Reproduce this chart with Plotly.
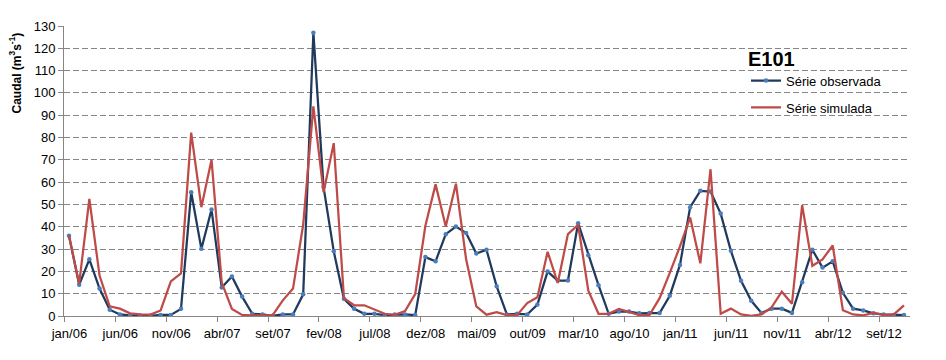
import plotly.graph_objects as go

months_pt = ["jan", "fev", "mar", "abr", "mai", "jun", "jul", "ago", "set", "out", "nov", "dez"]
# monthly categories jan/06 .. nov/12
categories = [f"{months_pt[m]}/{y:02d}" for y in range(6, 13) for m in range(12)][:83]

observada = [36, 14, 25.4, 12.3, 2.8, 0.7, 0.3, 0.2, 0.1, 0.5, 0.5, 3.2,
             55.5, 30.1, 47.7, 12.8, 17.7, 8.7, 1.0, 0.7, 0.1, 0.7, 0.7, 9.7,
             127, 57.8, 29, 7.7, 3.2, 1.0, 1.0, 0.4, 0.7, 0.7, 0.4, 26.4,
             24.5, 36.7, 40.1, 37.2, 28, 29.7, 13.3, 0.7, 1.0, 0.7, 5.1, 19.9,
             15.9, 15.9, 41.6, 27.2, 13.8, 1.0, 2.0, 2.0, 1.2, 1.3, 1.3, 9.1,
             22.9, 48.8, 56.1, 55.8, 45.9, 29.2, 15.8, 6.8, 1.4, 3.3, 3.3, 1.4,
             15.1, 29.7, 21.7, 24.5, 10.4, 3.3, 2.5, 1.2, 0.7, 0.4, 0.4]

simulada = [36, 14.5, 52.5, 18.1, 4.3, 3.3, 1.2, 0.7, 0.6, 2.5, 15.5, 19.1,
            82.2, 48.8, 70, 15, 3.2, 0.5, 0.3, 0.3, 0.4, 7, 12.3, 41,
            94, 55.5, 77.5, 8, 4.8, 4.8, 2.9, 1.0, 0.5, 2.2, 9.8, 40.5,
            59, 40.1, 59.3, 25.4, 4.3, 0.6, 1.7, 0.4, 0.4, 5.8, 8.4, 28.8,
            14.8, 36.7, 40.9, 11.3, 1.0, 1.0, 3.2, 1.7, 0.4, 0.4, 8, 19.3,
            31.2, 44.2, 23.6, 65.8, 1.0, 3.3, 0.7, 0.1, 0.7, 3.9, 10.9, 5.5,
            49.7, 22.5, 25.4, 31.6, 2.6, 0.7, 0.3, 1.4, 0.4, 0.7, 4.8]

tick_every = 5
x_idx = list(range(len(categories)))
tick_pos = [i - 0.45 for i in x_idx[::tick_every]]
tick_text = categories[::tick_every]

FONT = "Liberation Sans, Arial, sans-serif"

# page body has an 8px default margin; figure sized so the plot area lands
# at x 64..910, y 19..318 in the 946x360 window
PW, PH = 846, 299

fig = go.Figure()
fig.add_trace(go.Scatter(
    x=x_idx, y=observada, name="Série observada", mode="lines+markers",
    line=dict(color="#1F3A5C", width=2.25),
    marker=dict(size=4.5, color="#4A7EBB"),
    legendgroup="a",
))
fig.add_trace(go.Scatter(
    x=x_idx, y=simulada, name="Série simulada", mode="lines",
    line=dict(color="#BE4B48", width=2.25),
    legendgroup="b",
))

fig.update_layout(
    width=930, height=344,
    margin=dict(l=56, r=28, t=11, b=34),
    paper_bgcolor="white", plot_bgcolor="white",
    font=dict(family=FONT, size=13, color="#000000"),
    showlegend=True,
    legend=dict(
        x=(746 - 64) / PW, xanchor="left",
        y=(318 - 33) / PH, yanchor="top",
        bgcolor="rgba(0,0,0,0)",
        font=dict(size=13, family=FONT),
        title=dict(text="<b>E101</b>", font=dict(size=20, family=FONT)),
        tracegroupgap=7,
        itemwidth=30,
    ),
    xaxis=dict(
        range=[-0.49, 82.59],
        tickmode="array", tickvals=tick_pos, ticktext=tick_text,
        ticklabelshift=5,
        ticks="outside", ticklen=5, tickcolor="#868686",
        showline=True, linecolor="#868686", linewidth=1,
        showgrid=False, zeroline=False,
        tickfont=dict(size=13, family=FONT, color="#000000"),
    ),
    yaxis=dict(
        range=[0, 130], dtick=10, tick0=0,
        ticks="outside", ticklen=5, tickcolor="#868686",
        showline=True, linecolor="#868686", linewidth=1,
        showgrid=True, gridcolor="#868686", gridwidth=1, griddash="6px,3px",
        zeroline=False,
        tickfont=dict(size=13, family=FONT, color="#000000"),
    ),
    annotations=[dict(
        text="<b>Caudal (m<sup>3</sup>s<sup>-1</sup>)</b>",
        textangle=-90, xref="paper", yref="paper",
        x=(15 - 64) / PW, y=(318 - 68) / PH,
        xanchor="center", yanchor="middle", showarrow=False,
        font=dict(size=12, family=FONT, color="#000000"),
    )],
)

fig.write_html("out.html")
